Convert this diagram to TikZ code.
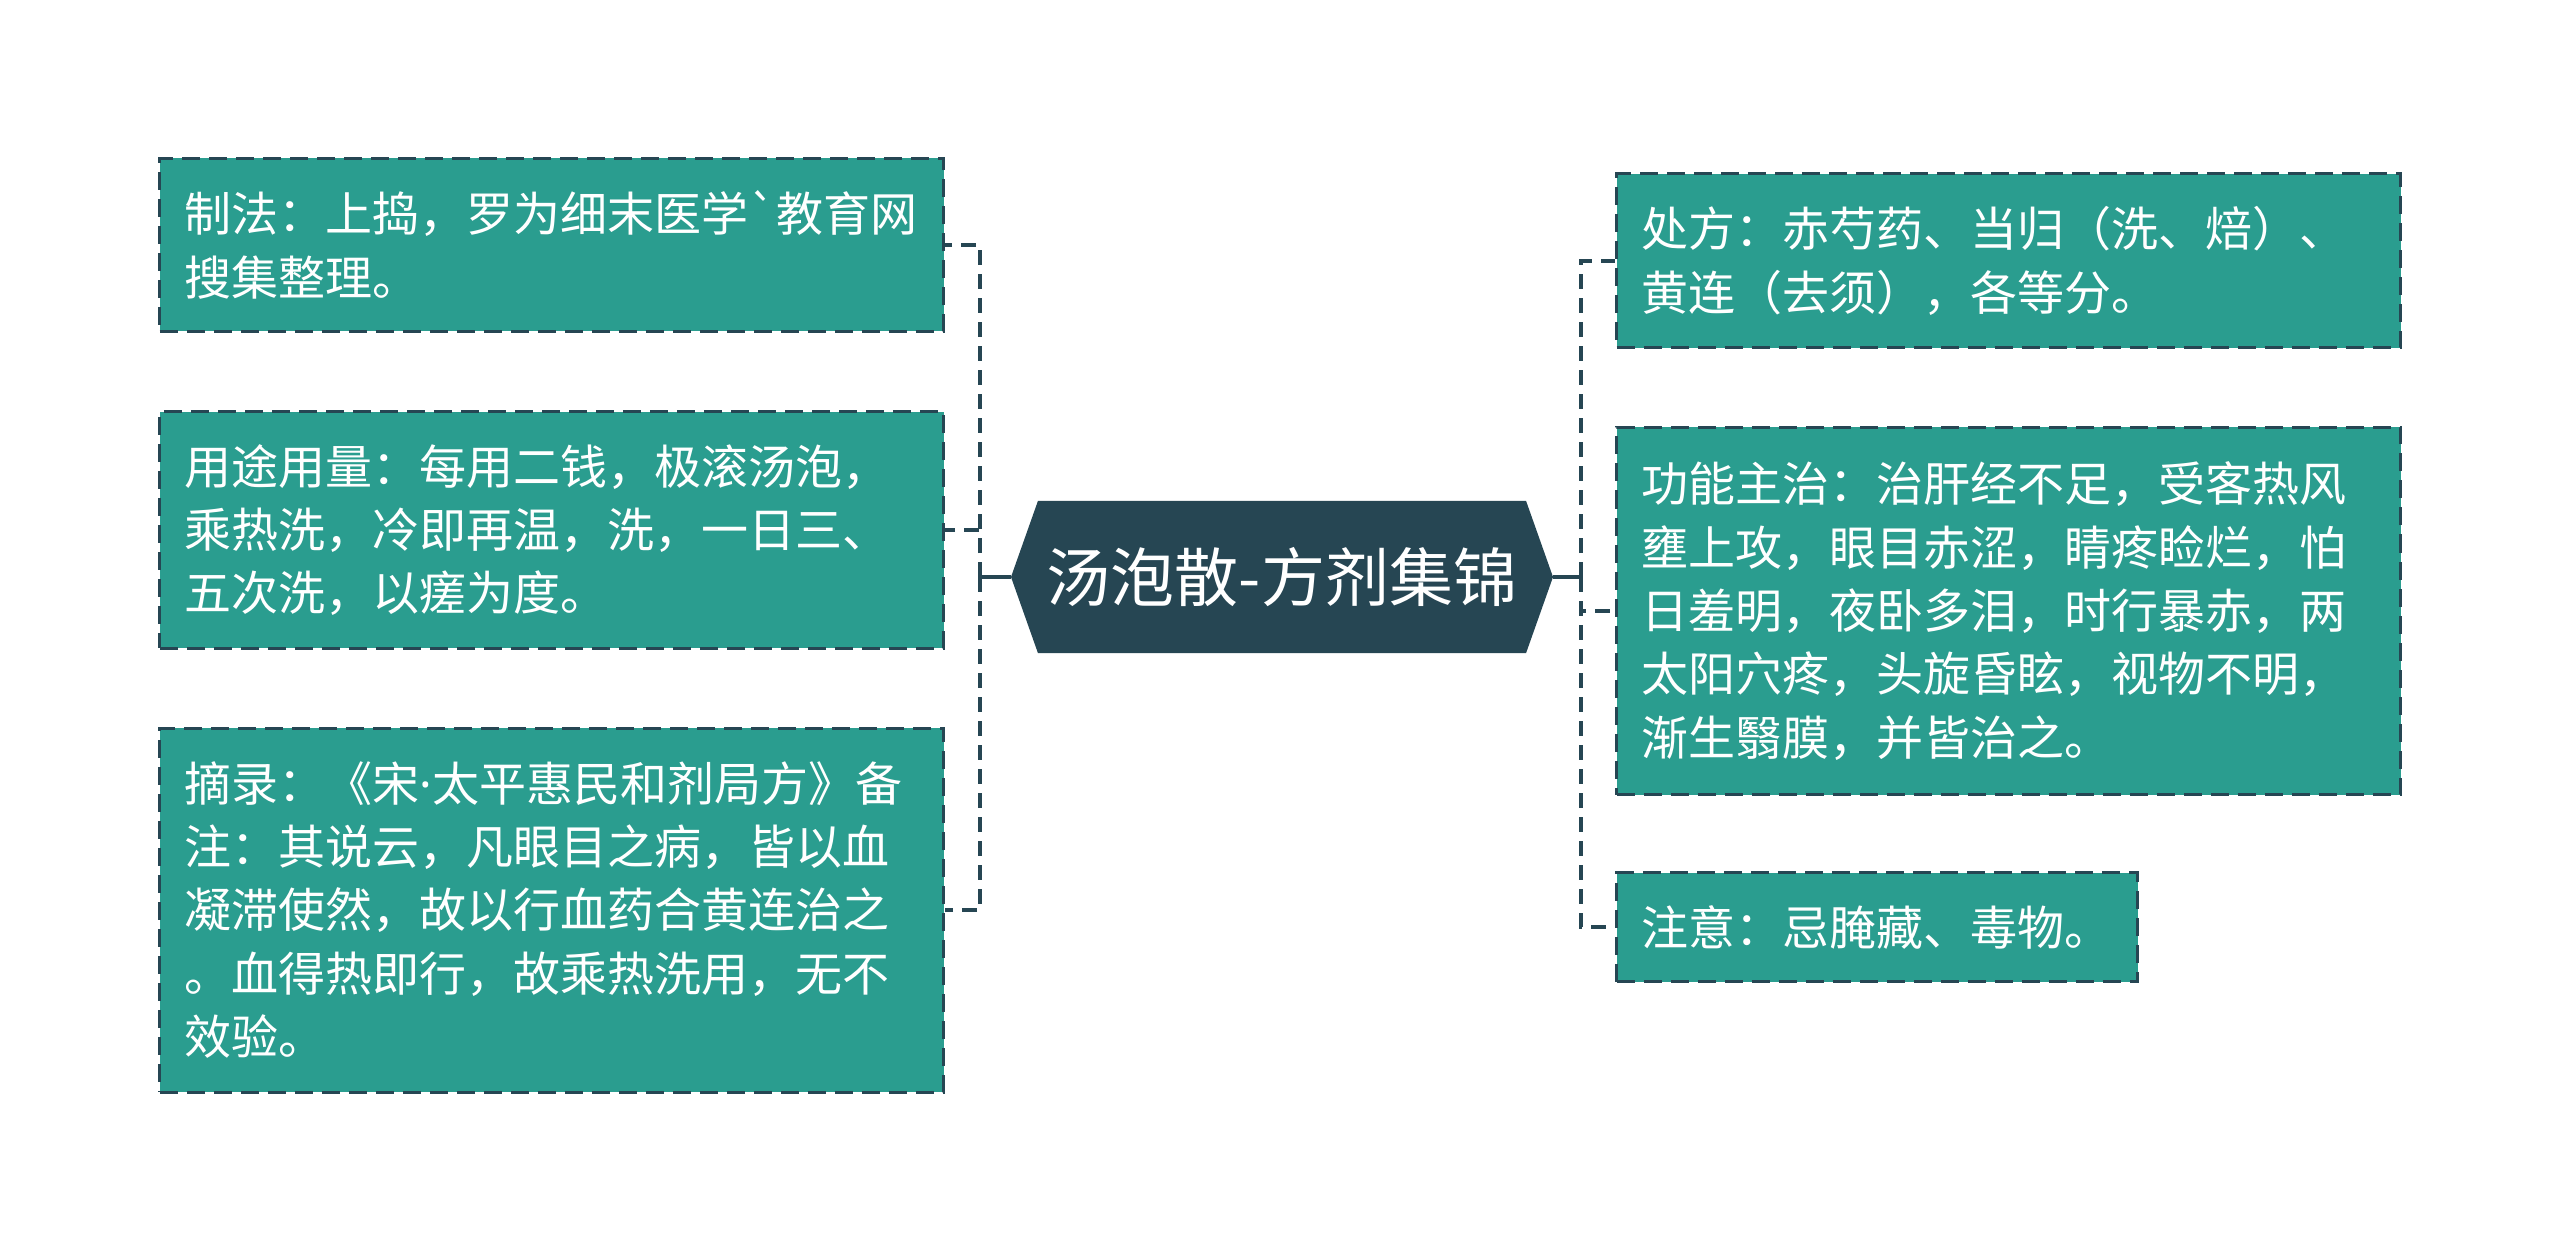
\documentclass[tikz,border=0pt]{standalone}
\usepackage{fontspec}
\setmainfont{Noto Sans CJK SC}
\newfontfamily\rawcjk{Noto Sans CJK SC}[Ligatures=TeXOff]
\newfontfamily\latinfont{Noto Sans}
\usetikzlibrary{shapes.symbols}
\definecolor{charcoal}{HTML}{264653}
\definecolor{jade}{HTML}{2A9D8F}

\begin{document}
\begin{tikzpicture}[x=0.5pt, y=-0.5pt,
    hub/.style={signal, signal to=west and east, signal pointer angle=141, fill=charcoal, text=white, minimum width=271pt, minimum height=76pt, inner sep=0pt, font=\fontsize{32pt}{38pt}\selectfont},
    leaf/.style={rectangle, draw=charcoal, dash pattern=on 9pt off 4.5pt, line width=1.5pt, fill=jade, text=white, anchor=west, align=left, inner xsep=12.5pt, inner ysep=0pt, font=\fontsize{23.5pt}{31.7pt}\selectfont},
    trunk/.style={line width=2pt, draw=charcoal},
    branch/.style={line width=2pt, draw=charcoal, dash pattern=on 7.5pt off 4.5pt}
]
    \useasboundingbox (0,0) rectangle (2560,1251);

    % Nodes
    \node[hub] (main) at (1282,577) {汤泡散-方剂集锦};

    \node[leaf, minimum height=86.5pt, text width=367pt] (zhifa) at (158,245) {制法：上捣，罗为细末医学{\rawcjk`}教育网\\搜集整理。};
    \node[leaf, minimum height=118pt, text width=367pt] (yongtu) at (158,530) {用途用量：每用二钱，极滚汤泡，\\乘热洗，冷即再温，洗，一日三、\\五次洗，以瘥为度。};
    \node[leaf, minimum height=182pt, text width=367pt] (zhailu) at (158,910) {摘录：《宋{\latinfont ·}太平惠民和剂局方》备\\注：其说云，凡眼目之病，皆以血\\凝滞使然，故以行血药合黄连治之\\。血得热即行，故乘热洗用，无不\\效验。};

    \node[leaf, minimum height=87pt, text width=367pt] (chufang) at (1615,261) {处方：赤芍药、当归（洗、焙）、\\黄连（去须），各等分。};
    \node[leaf, minimum height=183.5pt, text width=367pt] (gongneng) at (1615,611) {功能主治：治肝经不足，受客热风\\壅上攻，眼目赤涩，睛疼睑烂，怕\\日羞明，夜卧多泪，时行暴赤，两\\太阳穴疼，头旋昏眩，视物不明，\\渐生翳膜，并皆治之。};
    \node[leaf, minimum height=54.5pt, text width=235.5pt] (zhuyi) at (1615,927) {注意：忌腌藏、毒物。};

    \coordinate (jl) at (980,577);
    \coordinate (jr) at (1581,577);

    % Connectors
    \draw[trunk] (main.west) -- (jl);
    \draw[trunk] (main.east) -- (jr);
    \draw[branch] (jl) |- (zhifa.east);
    \draw[branch] (jl) |- (yongtu.east);
    \draw[branch] (jl) |- (zhailu.east);
    \draw[branch] (jr) |- (chufang.west);
    \draw[branch] (jr) |- (gongneng.west);
    \draw[branch] (jr) |- (zhuyi.west);
\end{tikzpicture}
\end{document}
